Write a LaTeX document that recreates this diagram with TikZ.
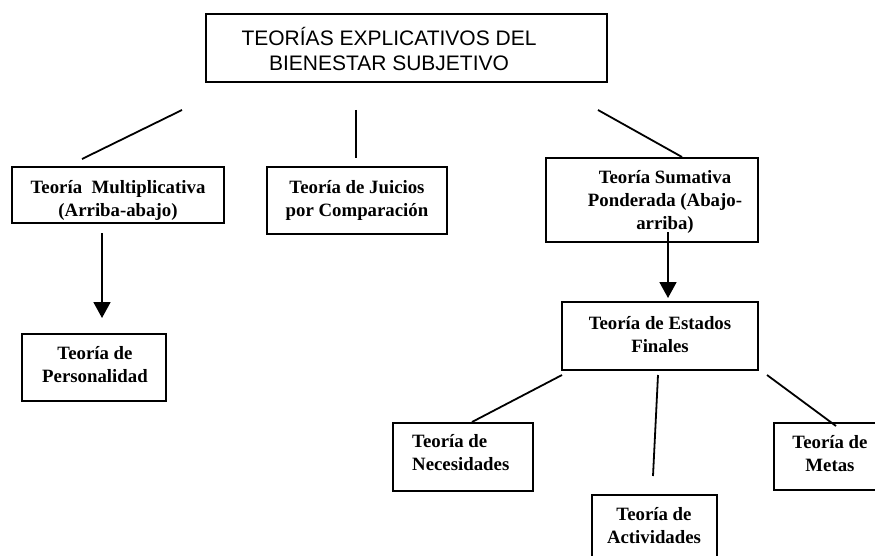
\documentclass[tikz,border=0pt]{standalone}
\usepackage{fontspec}
\setmainfont{Liberation Serif}
\newfontfamily\arialf{Liberation Sans}
\usetikzlibrary{arrows.meta}
\tikzset{
  box/.style={draw, line width=1.8pt, inner sep=0pt, rectangle},
  txt/.style={inner sep=0pt, align=center, font=\fontsize{18.8}{23}\selectfont\bfseries},
  txtl/.style={inner sep=0pt, align=left, font=\fontsize{18.8}{23}\selectfont\bfseries},
  conn/.style={line width=1.8pt},
  arr/.style={line width=1.8pt, -{Triangle[width=17pt,length=16pt]}}
}
\begin{document}
\begin{tikzpicture}[x=1pt,y=-1pt]
\useasboundingbox (0,0) rectangle (875,556);
% top box
\node[box, minimum width=401, minimum height=68] (top) at (406.5,48) {};
\node[inner sep=0pt, align=center, font=\fontsize{21}{25}\selectfont\arialf] (topT) at (389,49) {TEORÍAS EXPLICATIVOS DEL\\BIENESTAR SUBJETIVO};
% second level
\node[box, minimum width=212, minimum height=56] (mult) at (118,195) {};
\node[txt] (multT) at (118,200) {Teoría\ \ Multiplicativa\\(Arriba-abajo)};
\node[box, minimum width=180, minimum height=67] (juic) at (357,200.5) {};
\node[txt] (juicT) at (357,200) {Teoría de Juicios\\por Comparación};
\node[box, minimum width=212, minimum height=84] (suma) at (652,200) {};
\node[txt] (sumaT) at (665,202) {Teoría Sumativa\\Ponderada (Abajo-\\arriba)};
% third level
\node[box, minimum width=144, minimum height=67] (pers) at (94,367.5) {};
\node[txt] (persT) at (95,365) {Teoría de\\Personalidad};
\node[box, minimum width=196, minimum height=68] (esta) at (660,336) {};
\node[txt] (estaT) at (660,335) {Teoría de Estados\\Finales};
% fourth level
\node[box, minimum width=140, minimum height=68] (nece) at (463,457) {};
\node[txtl, anchor=west] (neceT) at (412,453) {Teoría de\\Necesidades};
\node[box, minimum width=114, minimum height=67] (meta) at (831,456.5) {};
\node[txt] (metaT) at (830,454) {Teoría de\\Metas};
\node[box, minimum width=125, minimum height=80] (acti) at (654.5,535) {};
\node[txt] (actiT) at (654,526) {Teoría de\\Actividades};
% connector end points
\coordinate (c1a) at (182,110); \coordinate (c1b) at (82,159);
\coordinate (c2a) at (356,110); \coordinate (c2b) at (356,158);
\coordinate (c3a) at (598,110); \coordinate (c3b) at (682,157);
\coordinate (a1a) at (102,233); \coordinate (a1b) at (102,318);
\coordinate (a2a) at (668,232); \coordinate (a2b) at (668,298);
\coordinate (c4a) at (562,375); \coordinate (c4b) at (472,422);
\coordinate (c5a) at (658,375); \coordinate (c5b) at (653,476);
\coordinate (c6a) at (767,375); \coordinate (c6b) at (836,426);
\draw[conn] (c1a) -- (c1b);
\draw[conn] (c2a) -- (c2b);
\draw[conn] (c3a) -- (c3b);
\draw[arr] (a1a) -- (a1b);
\draw[arr] (a2a) -- (a2b);
\draw[conn] (c4a) -- (c4b);
\draw[conn] (c5a) -- (c5b);
\draw[conn] (c6a) -- (c6b);
\end{tikzpicture}
\end{document}
